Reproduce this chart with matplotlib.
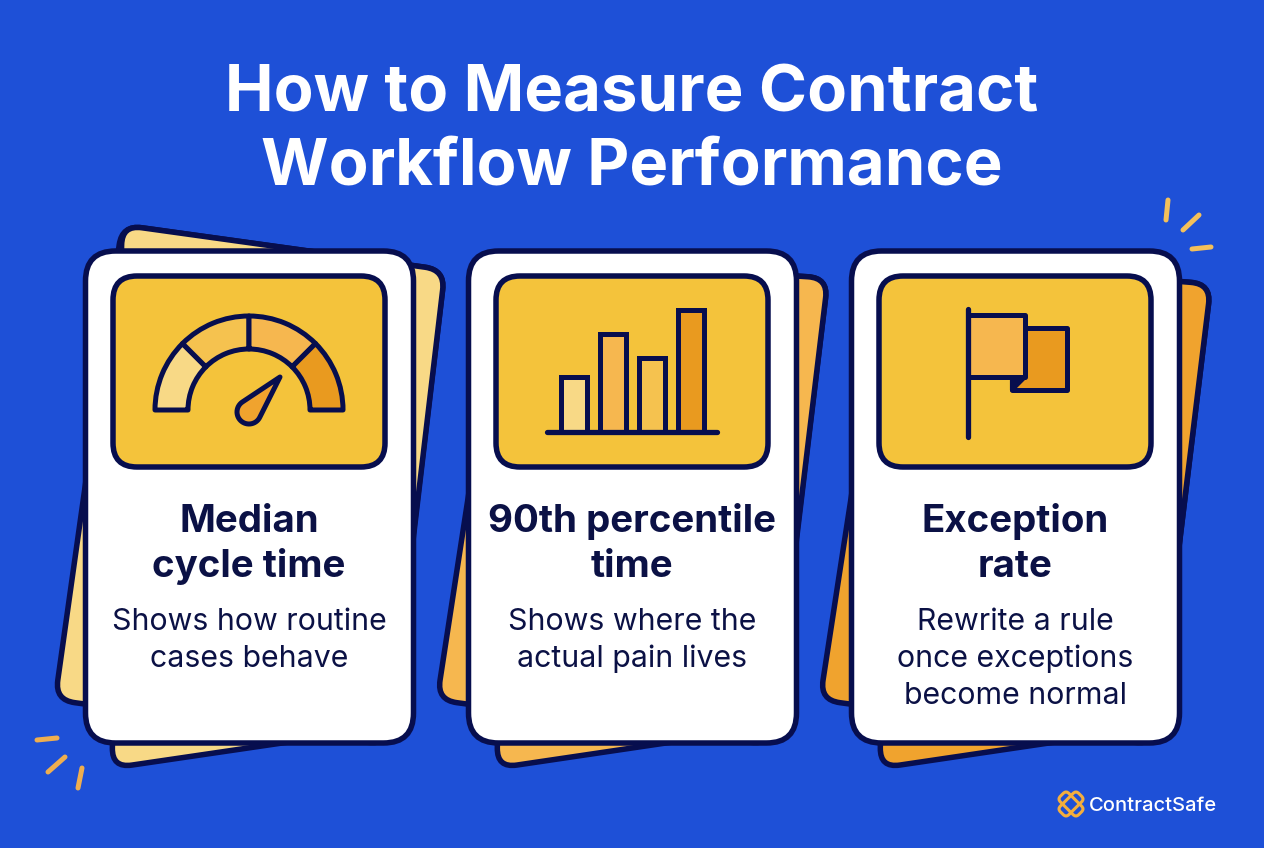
import numpy as np
import matplotlib
matplotlib.use('Agg')
import matplotlib.pyplot as plt
from matplotlib.path import Path
from matplotlib.patches import PathPatch, Wedge, Polygon

## Colours
BLUE = '#1E50D7'
NAVY = '#070E4E'
INK = '#0B1145'
PANEL = '#F4C33B'
PALE = '#F8D986'
MID = '#F5C24F'
LIGHT = '#F6B74F'
DEEP = '#E99A1F'

## Text
title_lines = ['How to Measure Contract', 'Workflow Performance']
headings = [['Median', 'cycle time'], ['90th percentile', 'time'], ['Exception', 'rate']]
bodies = [['Shows how routine', 'cases behave'],
          ['Shows where the', 'actual pain lives'],
          ['Rewrite a rule', 'once exceptions', 'become normal']]
brand = 'ContractSafe'

## Icon data
bar_heights = [55, 98, 74, 122]
bar_colors = [PALE, LIGHT, MID, DEEP]
gauge_angles = [180, 225, 270, 315, 360]
gauge_colors = [PALE, MID, LIGHT, DEEP]

## Layout: left edge of the three cards, and the sheets behind them
card_x = [84, 467, 850]
back_colors = [PALE, LIGHT, '#F0A32E']
back_upper = [[(122, 225), (445, 270), (388, 745), (55, 700)],
              [(505, 258), (828, 278), (771, 745), (437, 700)],
              [(888, 258), (1211, 284), (1155, 745), (820, 700)]]
back_lower = [[(122, 225), (445, 270), (391, 727), (112, 768)],
              [(505, 258), (828, 278), (774, 727), (497, 768)],
              [(888, 258), (1211, 284), (1157, 727), (880, 768)]]
sparks = [((1168, 200), (1166, 220)), ((1199, 215), (1183, 230)), ((1211, 247), (1192, 249)),
          ((57, 738), (37, 740)), ((65, 757), (48, 772)), ((82, 768), (78, 788))]
spark_colors = ['#F4C05A'] * 3 + ['#EFAE4F'] * 3


def rounded_poly(pts, r):
    ## closed path with rounded corners, r in pixels
    pts = [np.array(p, dtype=float) for p in pts]
    n = len(pts)
    verts, codes = [], []
    for i in range(n):
        p, prev, nxt = pts[i], pts[i - 1], pts[(i + 1) % n]
        a = p + (prev - p) / np.linalg.norm(prev - p) * r
        b = p + (nxt - p) / np.linalg.norm(nxt - p) * r
        verts += [a, p, b]
        codes += [Path.MOVETO if i == 0 else Path.LINETO, Path.CURVE3, Path.CURVE3]
    verts.append(verts[0])
    codes.append(Path.CLOSEPOLY)
    return Path(verts, codes)


def box(x0, y0, x1, y1):
    return [(x0, y0), (x1, y0), (x1, y1), (x0, y1)]


def draw_rounded(ax, pts, r, fc, lw=5.5, z=1):
    ax.add_patch(PathPatch(rounded_poly(pts, r), fc=fc, ec=NAVY, lw=lw * 0.72, zorder=z, joinstyle='round'))


def diagonal_band(cx, cy, sign):
    ## long rounded rectangle lying on one diagonal, for the logo
    u = np.array([1, sign]) / np.sqrt(2)
    v = np.array([-sign, 1]) / np.sqrt(2)
    c = np.array([cx, cy])
    return [c - 13 * u - 6 * v, c + 13 * u - 6 * v, c + 13 * u + 6 * v, c - 13 * u + 6 * v]


fig = plt.figure(figsize=(12.64, 8.48), dpi=100, facecolor=BLUE)
ax = fig.add_axes([0, 0, 1, 1])
ax.set_xlim(0, 1264)
ax.set_ylim(848, 0)
ax.axis('off')

plt.rcParams['font.family'] = ['Inter', 'DejaVu Sans']

## Title
for line, y in zip(title_lines, [111, 185]):
    ax.text(632, y, line, color='white', fontsize=46.9, fontweight='bold', ha='center', va='baseline')

## Cards
for i, x in enumerate(card_x):
    draw_rounded(ax, back_upper[i], 20, back_colors[i], z=1)
    draw_rounded(ax, back_lower[i], 20, back_colors[i], z=1)
    draw_rounded(ax, box(x + 1.5, 251, x + 329.5, 743), 30, 'white', z=2)
    draw_rounded(ax, box(x + 29, 276, x + 301, 467), 24, PANEL, z=3)
    cx = x + 165
    for line, y in zip(headings[i], [532, 577]):
        ax.text(cx, y, line, color=INK, fontsize=27.7, fontweight='bold', ha='center', va='baseline', zorder=4)
    for line, y in zip(bodies[i], [630, 667, 704]):
        ax.text(cx, y, line, color=INK, fontsize=21.8, ha='center', va='baseline', zorder=4)

## Gauge icon
for a0, a1, c in zip(gauge_angles[:-1], gauge_angles[1:], gauge_colors):
    ax.add_patch(Wedge((249, 410), 94, a0, a1, width=33, fc=c, ec=NAVY, lw=3.6, zorder=5, joinstyle='round'))
tip = np.array([280.0, 377.0])
hub = np.array([249.0, 412.0])
d = tip - hub
dist = np.hypot(*d)
base = np.arctan2(d[1], d[0])
off = np.arccos(12 / dist)
arc = np.linspace(base + off, base + 2 * np.pi - off, 30)
needle = [tuple(tip)] + [(hub[0] + 12 * np.cos(t), hub[1] + 12 * np.sin(t)) for t in arc]
ax.add_patch(Polygon(needle, closed=True, fc='#F0A32E', ec=NAVY, lw=3.6, zorder=5, joinstyle='round'))

## Bar icon
bar_x = [574, 612.5, 651.5, 690.5]
ax.bar(bar_x, [-h for h in bar_heights], width=26, bottom=432, color=bar_colors,
       edgecolor=NAVY, linewidth=3.6, zorder=5)
ax.plot([547, 717], [432, 432], color=NAVY, lw=3.8, solid_capstyle='round', zorder=6)

## Flag icon
ax.add_patch(Polygon([(1025, 328), (1067, 328), (1067, 390), (1012, 390), (1012, 370), (1025, 370)],
                     fc=DEEP, ec=NAVY, lw=3.6, zorder=5, joinstyle='round'))
ax.add_patch(Polygon([(1012, 377), (1025, 377), (1012, 390)], fc=NAVY, ec=NAVY, lw=3, zorder=5.2, joinstyle='round'))
ax.add_patch(Polygon(box(968, 315, 1025, 377), fc=LIGHT, ec=NAVY, lw=3.6, zorder=5.5, joinstyle='round'))
ax.plot([968, 968], [309, 437], color=NAVY, lw=3.8, solid_capstyle='round', zorder=6)

## Little accent strokes
for (p0, p1), c in zip(sparks, spark_colors):
    ax.plot([p0[0], p1[0]], [p0[1], p1[1]], color=c, lw=3.6, solid_capstyle='round', zorder=1)

## Logo
for sign in [1, -1]:
    ax.add_patch(PathPatch(rounded_poly(diagonal_band(1071, 804, sign), 4), fc='none', ec='#F4AE3D', lw=2.2, zorder=5))
ax.text(1089, 811, brand, color='white', fontsize=14.5, fontweight='medium', ha='left', va='baseline')

fig.savefig('out.png', dpi=100, facecolor=BLUE)
